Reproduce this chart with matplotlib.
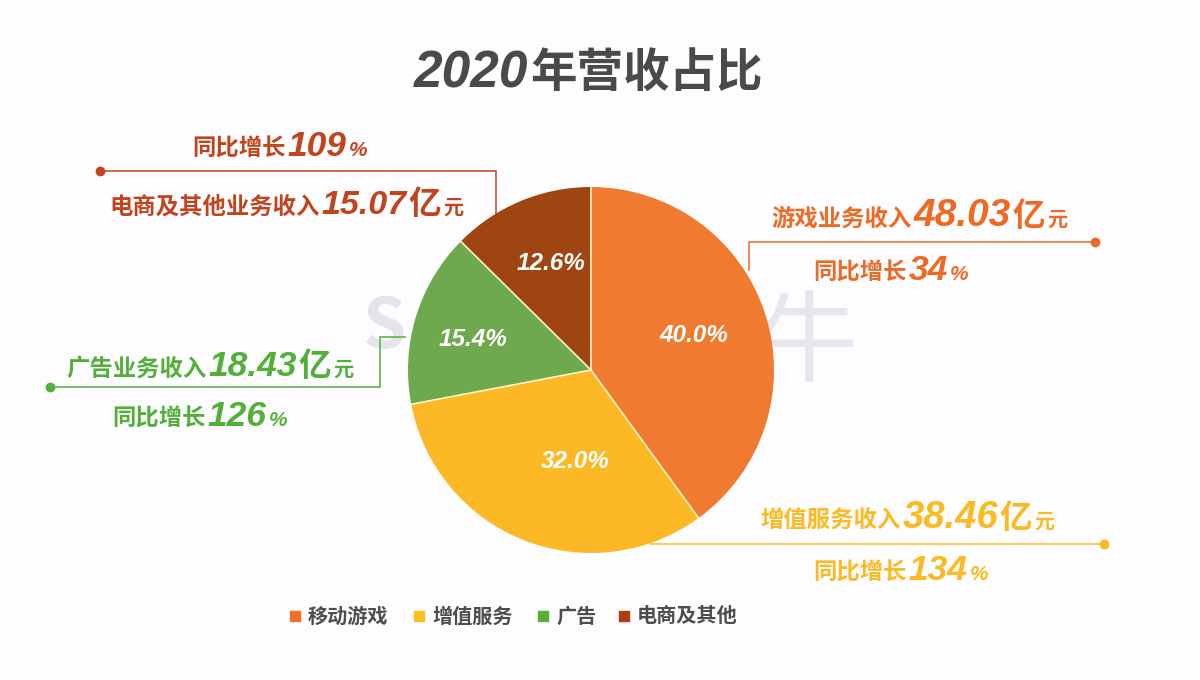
import numpy as np
import matplotlib
matplotlib.use("Agg")
import matplotlib.pyplot as plt

plt.rcParams['font.family'] = ['Noto Sans CJK SC', 'DejaVu Sans']

segments = ["移动游戏", "增值服务", "广告", "电商及其他"]
shares = [40.0, 32.0, 15.4, 12.6]
colors = ["#EF7A30", "#FDB825", "#6FA94E", "#9F4511"]
text_colors = ["#EE6A24", "#FBBA22", "#52B038", "#C1441C"]
legend_colors = ["#F07028", "#FDBE22", "#55AE35", "#AE3D10"]

income_label = ["游戏业务收入", "增值服务收入", "广告业务收入", "电商及其他业务收入"]
income = ["48.03", "38.46", "18.43", "15.07"]
growth = ["34", "134", "126", "109"]

W, H = 1200, 680
bg = "#FDFCFE"
cx, cy, radius = 591, 370, 183


def py(y):
    # pixel rows count from the top
    return H - y


fig = plt.figure(figsize=(12, 6.8), dpi=100, facecolor=bg)
ax = fig.add_axes([0, 0, 1, 1])
ax.set_facecolor(bg)

# watermark behind the pie
ax.text(808, py(345), "牛", fontsize=72, color="#E6E6EC", ha="center", va="center", zorder=0)
ax.text(384, py(328), "S", fontsize=50, color="#E4E4EA", ha="center", va="center",
        fontweight="bold", zorder=0)

wedges, _ = ax.pie(shares, colors=colors, startangle=90, counterclock=False,
                   center=(cx, py(cy)), radius=radius, frame=True,
                   wedgeprops=dict(linewidth=0))
for w in wedges:
    w.set_zorder(2)
    # thin pale separators between the slices
    a = np.deg2rad(w.theta2)
    ax.plot([cx, cx + radius * np.cos(a)], [py(cy), py(cy) + radius * np.sin(a)],
            color="#FBF3C8", lw=1.2, zorder=3)

ax.set_xlim(0, W)
ax.set_ylim(0, H)
ax.set_aspect("auto")
ax.axis("off")

renderer = fig.canvas.get_renderer()


def put_run(x, y, pieces, color):
    # pieces are (text, size in pt, latin?) placed one after the other on a baseline
    for s, size, latin in pieces:
        if latin:
            t = ax.text(x, py(y), s, fontsize=size, color=color, va="baseline", ha="left",
                        family="Liberation Sans", fontweight="bold", style="italic", zorder=4)
        else:
            t = ax.text(x, py(y), s, fontsize=size, color=color, va="baseline", ha="left",
                        fontweight="bold", zorder=4)
        x = t.get_window_extent(renderer).x1 + 2


def big_label(x, y, label, value, color, size):
    put_run(x, y, [(label, 16.8, False), (value, size, True), ("亿", 23.5, False), ("元", 14.5, False)], color)


def growth_label(x, y, value, color):
    put_run(x, y, [("同比增长", 16.8, False), (value, 25.5, True), ("%", 15, True)], color)


# title
put_run(414, 87, [("2020", 37, True), ("年营收占比", 33.5, False)], "#4A4A4A")

# percent labels on the wedges
pct_pos = [(694, 335), (575, 461), (473, 340), (551, 263)]
for (x, y), v in zip(pct_pos, shares):
    ax.text(x, py(y), "%.1f%%" % v, fontsize=17.5, color="white", ha="center", va="center",
            family="Liberation Sans", fontweight="bold", style="italic", zorder=5)

# leader lines, pixel paths from the picture
leaders = [
    ([749, 749, 1095], [270, 242, 242]),
    ([650, 1104], [544, 544]),
    ([405, 380, 380, 50], [337, 337, 387, 387]),
    ([496, 496, 100], [215, 171, 171]),
]
for (xs, ys), c in zip(leaders, text_colors):
    ax.plot(xs, [py(v) for v in ys], color=c, lw=1.1, zorder=1, solid_joinstyle="miter")
    ax.plot(xs[-1], py(ys[-1]), "o", color=c, ms=6, zorder=3)

big_label(771, 226, income_label[0], income[0], text_colors[0], 28)
growth_label(813, 280, growth[0], text_colors[0])
big_label(760, 528, income_label[1], income[1], text_colors[1], 27.5)
growth_label(813, 580, growth[1], text_colors[1])
big_label(66, 376, income_label[2], income[2], text_colors[2], 25.5)
growth_label(112, 426, growth[2], text_colors[2])
big_label(109, 214, income_label[3], income[3], text_colors[3], 24.5)
growth_label(192, 156, growth[3], text_colors[3])

# legend
legend_x = [289, 413, 537, 618]
for x, name, c in zip(legend_x, segments, legend_colors):
    ax.plot(x + 6, py(616), "s", color=c, ms=7.5, zorder=3)
    ax.text(x + 19, py(616), name, fontsize=14.5, color="#4D4D4D", fontweight="bold",
            ha="left", va="center", zorder=4)

fig.savefig("out.png", dpi=100, facecolor=bg)
